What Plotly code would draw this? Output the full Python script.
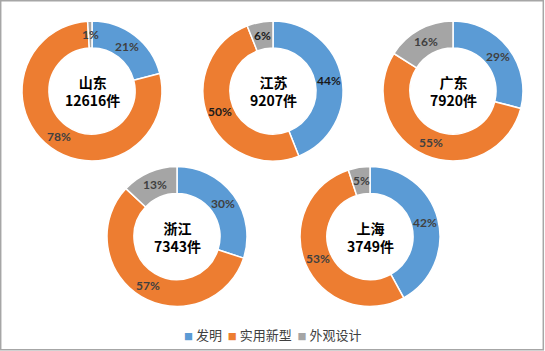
import math
import plotly.graph_objects as go

W, H = 545, 351

provinces = ["山东", "江苏", "广东", "浙江", "上海"]
totals = [12616, 9207, 7920, 7343, 3749]
categories = ["发明", "实用新型", "外观设计"]
invention = [21, 44, 29, 30, 42]
utility = [78, 50, 55, 57, 53]
design = [1, 6, 16, 13, 5]

colors = ["#5B9BD5", "#ED7D31", "#A5A5A5"]
label_colors = ["#404040", "#1a1a1a", "#404040", "#404040", "#404040"]

# layout: centers (px) and radius
centers = [(92, 91), (273, 91), (453, 91), (177, 236.5), (370, 236.5)]
R = 70
HOLE = 0.615

fig = go.Figure()
annotations = []
for i, prov in enumerate(provinces):
    cx, cy = centers[i]
    dx = [(cx - R) / W, (cx + R) / W]
    dy = [1 - (cy + R) / H, 1 - (cy - R) / H]
    vals = [invention[i], utility[i], design[i]]
    fig.add_trace(go.Pie(
        labels=categories,
        values=vals,
        hole=HOLE,
        sort=False,
        direction="clockwise",
        rotation=0,
        domain=dict(x=dx, y=dy),
        marker=dict(colors=colors, line=dict(color="#FFFFFF", width=1.5)),
        textinfo="none",
        showlegend=False,
        hoverinfo="label+percent",
    ))
    # data labels at the mid-ring on each slice's bisector
    total = sum(vals)
    cum = 0
    rm = R * (1 + HOLE) / 2
    for v in vals:
        theta = 2 * math.pi * (cum + v / 2) / total
        cum += v
        px = cx + rm * math.sin(theta)
        py = cy - rm * math.cos(theta)
        annotations.append(dict(
            x=px / W, y=1 - py / H, xref="paper", yref="paper",
            showarrow=False, text=f"<b>{round(100 * v / total)}%</b>",
            font=dict(family="Lato, 'Noto Sans CJK SC'", size=12,
                      color=label_colors[i]),
            xanchor="center", yanchor="middle",
        ))
    annotations.append(dict(
        x=(dx[0] + dx[1]) / 2, y=(dy[0] + dy[1]) / 2,
        xref="paper", yref="paper", showarrow=False,
        text=f"<b>{prov}<br>{totals[i]}件</b>",
        font=dict(family="Noto Sans CJK SC", size=14, color="#000000"),
        xanchor="center", yanchor="middle",
    ))

sq = "<span style='font-size:9px;color:{c}'>■</span>"
legend_text = "".join(
    f"{sq.format(c=colors[k])} {categories[k]}" + ("  " if k < 2 else "")
    for k in range(3)
)
annotations.append(dict(
    x=0.5, y=1 - 334 / H, xref="paper", yref="paper", showarrow=False,
    text=legend_text,
    font=dict(family="Noto Sans CJK SC", size=13, color="#404040"),
    xanchor="center", yanchor="middle",
))

fig.update_layout(
    width=W, height=H,
    margin=dict(l=0, r=0, t=0, b=0),
    paper_bgcolor="#FFFFFF",
    plot_bgcolor="#FFFFFF",
    annotations=annotations,
    shapes=[dict(type="rect", xref="paper", yref="paper",
                 x0=0.7 / W, x1=543.3 / W, y0=1 - 349.7 / H, y1=1 - 0.7 / H,
                 line=dict(color="#A6A6A6", width=1.5))],
)

fig.write_html("out.html")
